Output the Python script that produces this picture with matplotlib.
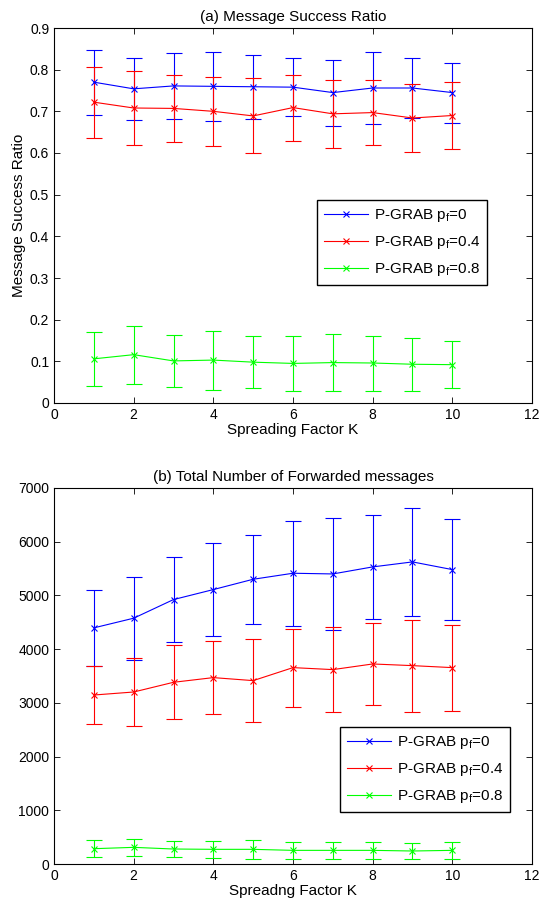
import matplotlib.pyplot as plt
from matplotlib.lines import Line2D
import numpy as np

plt.rcParams['font.family'] = ['Liberation Sans', 'DejaVu Sans']
plt.rcParams['mathtext.fontset'] = 'custom'
plt.rcParams['mathtext.rm'] = 'Liberation Sans'
plt.rcParams['mathtext.it'] = 'Liberation Sans'

K = [1, 2, 3, 4, 5, 6, 7, 8, 9, 10]
labels = ["P-GRAB p$_\\mathregular{f}$=0", "P-GRAB p$_\\mathregular{f}$=0.4",
          "P-GRAB p$_\\mathregular{f}$=0.8"]
colors = ["#0000ff", "#ff0000", "#00ff00"]

# (a) message success ratio, mean and +/- error
ratio_mean = [
    [0.770, 0.754, 0.761, 0.760, 0.759, 0.758, 0.745, 0.756, 0.756, 0.745],
    [0.722, 0.708, 0.707, 0.700, 0.689, 0.709, 0.694, 0.697, 0.684, 0.690],
    [0.106, 0.116, 0.101, 0.103, 0.098, 0.095, 0.097, 0.096, 0.093, 0.092],
]
ratio_err = [
    [0.078, 0.074, 0.079, 0.083, 0.077, 0.070, 0.079, 0.086, 0.072, 0.072],
    [0.085, 0.089, 0.080, 0.083, 0.090, 0.079, 0.082, 0.078, 0.082, 0.081],
    [0.064, 0.070, 0.063, 0.071, 0.063, 0.065, 0.069, 0.066, 0.064, 0.057],
]

# (b) total number of forwarded messages
fwd_mean = [
    [4396, 4576, 4923, 5109, 5301, 5413, 5400, 5531, 5624, 5481],
    [3146, 3202, 3383, 3470, 3414, 3656, 3619, 3724, 3693, 3656],
    [285, 310, 279, 273, 273, 254, 254, 254, 242, 254],
]
fwd_err = [
    [701, 769, 794, 868, 831, 973, 1042, 961, 1004, 942],
    [546, 639, 689, 677, 777, 727, 789, 757, 856, 801],
    [162, 162, 155, 161, 174, 162, 162, 162, 155, 162],
]


def draw(ax, means, errs, anchor):
    for m, e, c in zip(means, errs, colors):
        ax.errorbar(K, m, yerr=e, color=c, lw=0.8, elinewidth=0.8,
                    capsize=5.5, capthick=0.8, marker='x', markersize=5,
                    markeredgewidth=0.8)
    ax.set_xlim(0, 12)
    ax.set_xticks(np.arange(0, 13, 2))
    ax.tick_params(direction='in', top=True, right=True, labelsize=10,
                   length=4, width=0.6)
    for s in ax.spines.values():
        s.set_linewidth(0.8)
    # legend shows only line + marker, like matlab
    handles = [Line2D([], [], color=c, lw=0.8, marker='x', markersize=5,
                      markeredgewidth=0.8) for c in colors]
    ax.legend(handles, labels, loc='upper left', bbox_to_anchor=anchor,
              borderaxespad=0, fontsize=11, frameon=True, fancybox=False,
              edgecolor='black', framealpha=1, handlelength=2.9,
              handletextpad=0.4, borderpad=0.45, labelspacing=0.65)


fig = plt.figure(figsize=(5.42, 9.07), dpi=100)
ax1 = fig.add_axes([54 / 542, 1 - 403 / 907, 478 / 542, 375 / 907])
ax2 = fig.add_axes([54 / 542, 1 - 864 / 907, 478 / 542, 376 / 907])

draw(ax1, ratio_mean, ratio_err, (0.550, 0.541))
ax1.set_ylim(0, 0.9)
ax1.set_yticks(np.arange(0, 0.91, 0.1))
ax1.set_yticklabels(["0", "0.1", "0.2", "0.3", "0.4", "0.5", "0.6", "0.7", "0.8", "0.9"])
ax1.set_title("(a) Message Success Ratio", fontsize=11, pad=5)
ax1.set_xlabel("Spreading Factor K", fontsize=11, labelpad=1)
ax1.set_ylabel("Message Success Ratio", fontsize=11, labelpad=3)

draw(ax2, fwd_mean, fwd_err, (0.598, 0.364))
ax2.set_ylim(0, 7000)
ax2.set_yticks(np.arange(0, 7001, 1000))
ax2.set_title("(b) Total Number of Forwarded messages", fontsize=11, pad=5)
ax2.set_xlabel("Spreadng Factor K", fontsize=11, labelpad=1)

fig.savefig("out.png", dpi=100)
